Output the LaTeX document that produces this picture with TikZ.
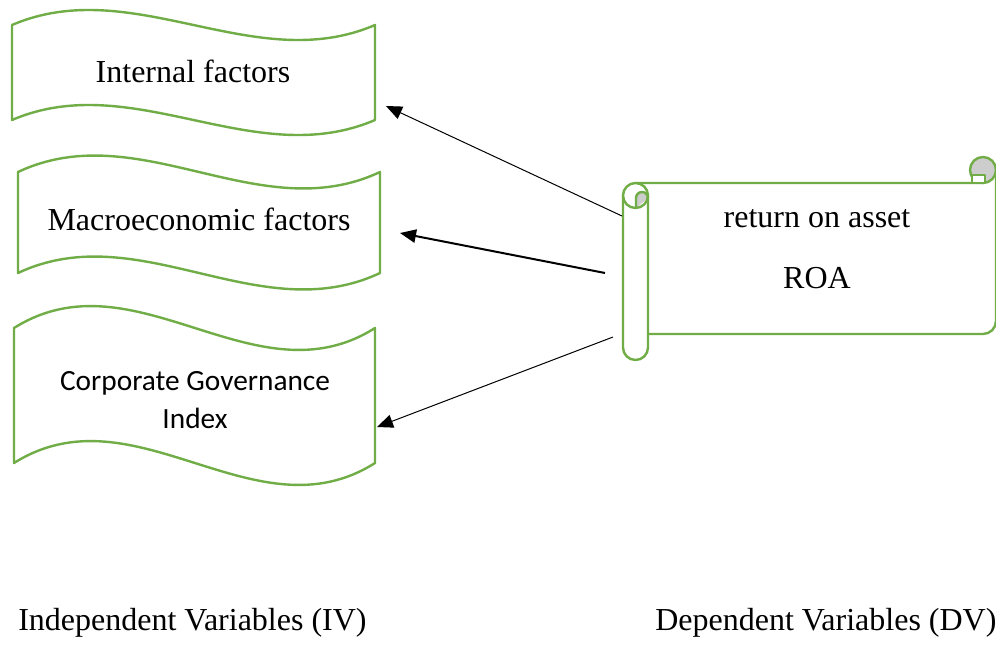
\documentclass[tikz,border=0pt]{standalone}
\usepackage{fontspec}
\setmainfont{Liberation Serif}
\newfontfamily\calibrifont{Carlito}
\usepackage{xcolor}
\usepackage{tikz}
\usetikzlibrary{arrows.meta}

\definecolor{boxgreen}{RGB}{112,173,71}
\definecolor{curlgray}{RGB}{205,205,205}

\tikzset{
  wave/.style={draw=boxgreen, line width=1.8pt, fill=white, line join=round},
  scrollline/.style={draw=boxgreen, line width=1.8pt, line join=round},
  txt/.style={font=\fontsize{24}{29}\selectfont, anchor=base, inner sep=0pt},
  sanstxt/.style={font=\calibrifont\fontsize{22}{26}\selectfont, anchor=base, inner sep=0pt},
  link/.style={-{Triangle[length=12pt,width=10pt]}, line width=0.75pt},
  boldlink/.style={-{Triangle[length=12pt,width=10pt]}, line width=1.5pt}
}

\begin{document}
\begin{tikzpicture}[x=0.75pt,y=-0.75pt]
			\useasboundingbox (0,0) rectangle (996,647);

			% independent variables (wave shapes)
			\path[wave] (12,25) .. controls (133,-27) and (254,77) .. (375,25)
				-- (375,120) .. controls (254,172) and (133,68) .. (12,120) -- cycle;
			\path[wave] (18,172) .. controls (139,115) and (259,229) .. (380,172)
				-- (380,273) .. controls (259,330) and (139,216) .. (18,273) -- cycle;
			\path[wave] (14,328) .. controls (135,252) and (255,404) .. (375,328)
				-- (375,463) .. controls (255,539) and (135,387) .. (14,463) -- cycle;

			\node[txt] (internal) at (193,82) {Internal factors};
			\node[txt] (macro) at (199,230) {Macroeconomic factors};
			\node[sanstxt] (cgi) at (195,390) {Corporate Governance};
			\node[sanstxt] (cgiindex) at (195,428) {Index};

			% dependent variable (scroll)
			\path[scrollline, fill=white] (636,183) -- (983,183) -- (996,170) -- (996,321)
				arc[start angle=0, end angle=90, radius=13] -- (636,334) -- cycle;
			\path[scrollline, fill=curlgray] (983,170) circle[radius=13];
			\path[scrollline, fill=white] (972,175) rectangle (985,183);
			\path[scrollline, fill=white, rounded corners=9.375pt] (623,183) rectangle (648,360);
			\path[fill=curlgray] (636,208) -- (636,198) arc[start angle=180, end angle=360, radius=6] -- cycle;
			\draw[boxgreen, line width=1.8pt] (636,208) -- (636,198) arc[start angle=180, end angle=360, radius=6];
			\draw[boxgreen, line width=1.8pt] (623,195.5) arc[start angle=180, end angle=0, radius=12.5];

			\node[txt] (roatext) at (817,227) {return on asset};
			\node[txt] (roa) at (817,288) {ROA};

			% arrow ends
			\coordinate (dvtop) at (622,216);
			\coordinate (dvmid) at (605,273);
			\coordinate (dvbot) at (613,337);
			\coordinate (ivtop) at (386,106);
			\coordinate (ivmid) at (400,233);
			\coordinate (ivbot) at (377,427);

			\draw[link] (dvtop) -- (ivtop);
			\draw[boldlink] (dvmid) -- (ivmid);
			\draw[link] (dvbot) -- (ivbot);

			\node[txt, anchor=base west] (ivlabel) at (18,630) {Independent Variables (IV)};
			\node[txt, anchor=base west] (dvlabel) at (655,630) {Dependent Variables (DV)};
		\end{tikzpicture}
\end{document}
